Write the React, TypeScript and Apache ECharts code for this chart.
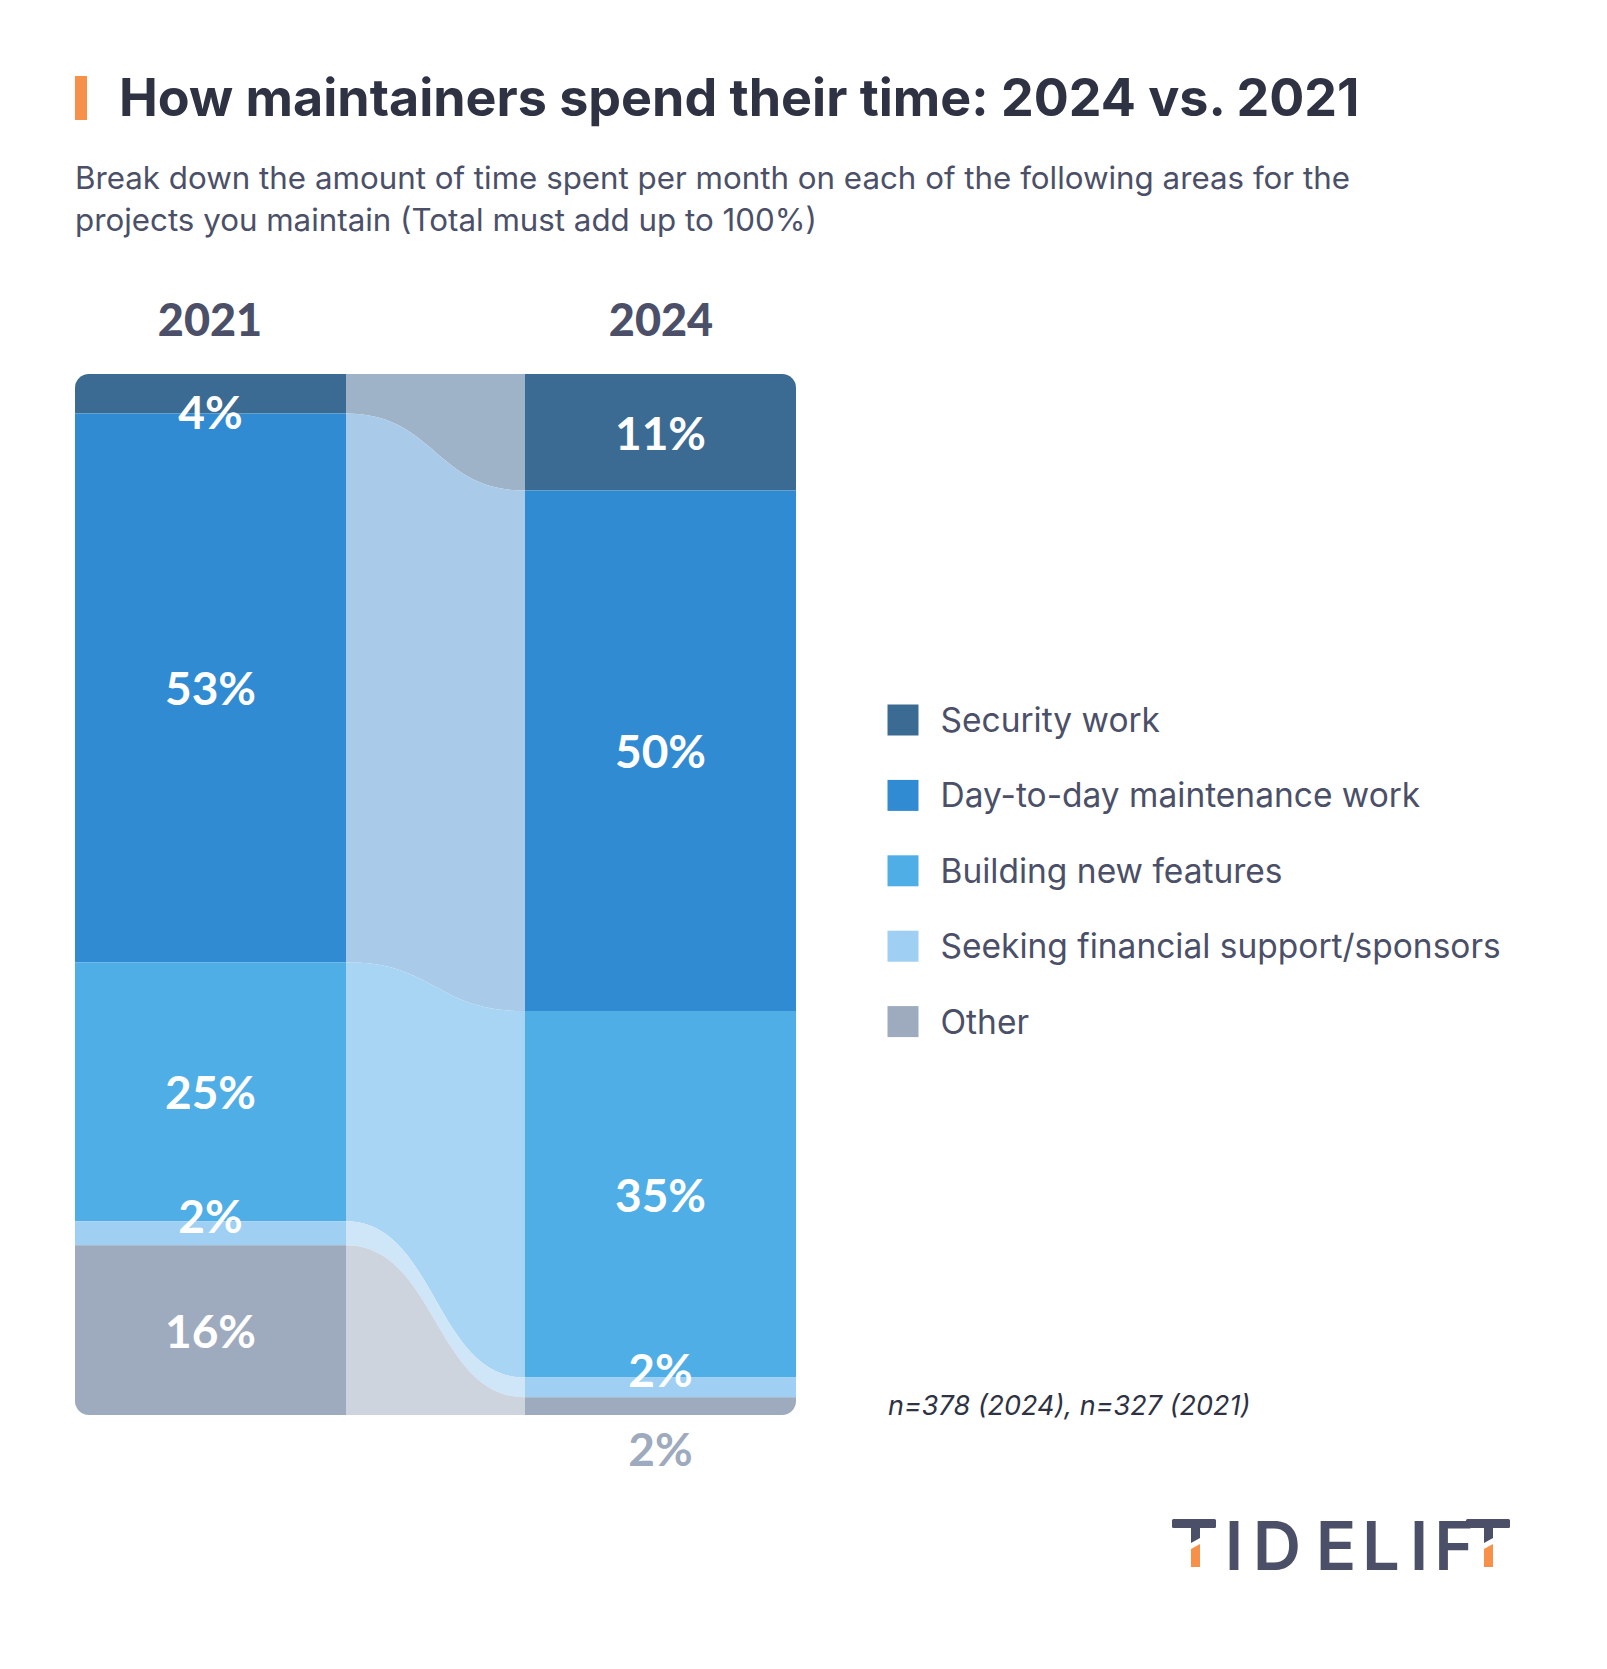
import React, { useEffect, useRef } from "react";
import * as echarts from "echarts";

const categories = [
  "Security work",
  "Day-to-day maintenance work",
  "Building new features",
  "Seeking financial support/sponsors",
  "Other",
];
const years = ["2021", "2024"];
const values2021 = [3.8, 52.7, 24.9, 2.3, 16.3];
const values2024 = [11.2, 50.0, 35.2, 1.9, 1.7];
const barColors = ["#3b6a92", "#318bd2", "#4faee6", "#9fcff2", "#9eaabd"];
const flowColors = ["#9eb3c7", "#a9cbe9", "#a7d5f3", "#cfe5f8", "#cdd4de"];

const TITLE = "How maintainers spend their time: 2024 vs. 2021";
const SUB1 = "Break down the amount of time spent per month on each of the following areas for the";
const SUB2 = "projects you maintain (Total must add up to 100%)";
const NOTE = "n=378 (2024), n=327 (2021)";

const BAR_FRAC = 271 / 721;
const R = 14;
const LABEL_FONT = "Lato, sans-serif";
const TEXT_FONT = "Inter, sans-serif";
const DARK = "#2e3243";
const MID = "#4b5068";

function cumulative(arr: number[]) {
  const starts: number[] = [];
  let acc = 0;
  for (const v of arr) {
    starts.push(acc);
    acc += v;
  }
  return starts;
}

function geom(api: any) {
  const s21 = api.value(0);
  const e21 = api.value(1);
  const s24 = api.value(2);
  const e24 = api.value(3);
  const idx = api.value(4);
  const x0 = api.coord([0, 0])[0];
  const x3 = api.coord([1, 0])[0];
  const W = x3 - x0;
  const x1 = x0 + W * BAR_FRAC;
  const x2 = x3 - W * BAR_FRAC;
  return {
    idx,
    x0,
    x1,
    x2,
    x3,
    xm: (x1 + x2) / 2,
    ya1: api.coord([0, s21])[1],
    yb1: api.coord([0, e21])[1],
    ya2: api.coord([1, s24])[1],
    yb2: api.coord([1, e24])[1],
  };
}

export default function App() {
  const ref = useRef<HTMLDivElement>(null);
  useEffect(() => {
    if (!ref.current) return;
    const chart = echarts.init(ref.current, null, { renderer: "svg" });
    const st21 = cumulative(values2021);
    const st24 = cumulative(values2024);
    const last = categories.length - 1;
    const rows = categories.map((_, i) => [
      st21[i],
      st21[i] + values2021[i],
      st24[i],
      st24[i] + values2024[i],
      i,
    ]);

    const bandSeries = categories.map((name, i) => ({
      type: "custom",
      name,
      z: 2,
      itemStyle: { color: barColors[i] },
      data: [rows[i]],
      renderItem: (params: any, api: any) => {
        const g = geom(api);
        const { idx, x0, x1, x2, x3, xm, ya1, yb1, ya2, yb2 } = g;
        const isFirst = idx === 0;
        const isLast = idx === last;
        const r21 = isFirst ? [R, 0, 0, 0] : isLast ? [0, 0, 0, R] : 0;
        const r24 = isFirst ? [0, R, 0, 0] : isLast ? [0, 0, R, 0] : 0;
        const path =
          `M${x1 - 1},${ya1} L${x1},${ya1} C${xm},${ya1} ${xm},${ya2} ${x2},${ya2} L${x2 + 1},${ya2} ` +
          `L${x2 + 1},${yb2} L${x2},${yb2} C${xm},${yb2} ${xm},${yb1} ${x1},${yb1} L${x1 - 1},${yb1} Z`;
        return {
          type: "group",
          children: [
            { type: "path", shape: { pathData: path }, style: { fill: flowColors[idx] } },
            { type: "rect", shape: { x: x0, y: ya1, width: x1 - x0, height: yb1 - ya1, r: r21 }, style: { fill: barColors[idx] } },
            { type: "rect", shape: { x: x2, y: ya2, width: x3 - x2, height: yb2 - ya2, r: r24 }, style: { fill: barColors[idx] } },
          ],
        };
      },
    }));

    const labelSeries = {
      type: "custom",
      name: "labels",
      z: 10,
      data: rows,
      renderItem: (params: any, api: any) => {
        const g = geom(api);
        const { idx, x0, x1, x2, x3, ya1, yb1, ya2, yb2 } = g;
        const isFirst = idx === 0;
        const isLast = idx === last;
        const bottom = api.coord([1, 100])[1];
        const children: any[] = [];
        const addLabel = (v: number, xc: number, top: number, bot: number) => {
          const h = bot - top;
          let y = (top + bot) / 2;
          let color = "#ffffff";
          if (h < 45) {
            if (isFirst) y += 18;
            else if (isLast && h < 30 && Math.abs(bot - bottom) < 1) {
              y = bot + 33;
              color = "#9eaabd";
            } else y -= 18;
          }
          children.push({
            type: "text",
            style: {
              text: `${Math.round(v)}%`,
              x: xc,
              y,
              align: "center",
              verticalAlign: "middle",
              fill: color,
              font: `bold 46px ${LABEL_FONT}`,
            },
          });
        };
        addLabel(values2021[idx], (x0 + x1) / 2, ya1, yb1);
        addLabel(values2024[idx], (x2 + x3) / 2, ya2, yb2);
        return { type: "group", children };
      },
    };

    const logoLetters = [
      { ch: "I", x: 1234 },
      { ch: "D", x: 1277 },
      { ch: "E", x: 1336 },
      { ch: "L", x: 1381 },
      { ch: "I", x: 1419 },
      { ch: "F", x: 1454 },
    ];
    const tShape = (left: number, stemL: number) => [
      { type: "rect", shape: { x: left, y: 1519, width: 44, height: 9, r: 1.5 }, style: { fill: MID } },
      { type: "polygon", shape: { points: [[stemL, 1527], [stemL + 9, 1527], [stemL + 9, 1538], [stemL, 1543]] }, style: { fill: MID } },
      { type: "polygon", shape: { points: [[stemL, 1549], [stemL + 9, 1544], [stemL + 9, 1567], [stemL, 1567]] }, style: { fill: "#f7914a" } },
    ];

    chart.setOption({
      animation: false,
      grid: { left: 75, top: 374, width: 721, height: 1041 },
      xAxis: { type: "value", min: 0, max: 1, show: false },
      yAxis: { type: "value", min: 0, max: 100, inverse: true, show: false },
      legend: {
        orient: "vertical",
        left: 882.5,
        top: 698,
        icon: "rect",
        itemWidth: 31,
        itemHeight: 31,
        itemGap: 41.4,
        selectedMode: false,
        data: categories,
        textStyle: { fontSize: 33.5, color: MID, fontFamily: TEXT_FONT, lineHeight: 31, padding: [0, 0, 0, 17] },
      },
      graphic: [
        { type: "rect", shape: { x: 75, y: 76, width: 12, height: 44 }, style: { fill: "#f7914a" } },
        { type: "text", style: { text: TITLE, x: 119, y: 97, verticalAlign: "middle", fill: DARK, font: `bold 52px ${TEXT_FONT}` } },
        { type: "text", style: { text: SUB1, x: 75, y: 178, verticalAlign: "middle", fill: MID, font: `31.3px ${TEXT_FONT}` } },
        { type: "text", style: { text: SUB2, x: 75, y: 220, verticalAlign: "middle", fill: MID, font: `31.3px ${TEXT_FONT}` } },
        { type: "text", style: { text: years[0], x: 210, y: 319, align: "center", verticalAlign: "middle", fill: MID, font: `900 45px ${LABEL_FONT}` } },
        { type: "text", style: { text: years[1], x: 661, y: 319, align: "center", verticalAlign: "middle", fill: MID, font: `900 45px ${LABEL_FONT}` } },
        { type: "text", style: { text: NOTE, x: 888, y: 1405, verticalAlign: "middle", fill: DARK, font: `italic 27px ${TEXT_FONT}` } },
        ...tShape(1172, 1191),
        ...tShape(1466, 1484),
        ...logoLetters.map((l) => ({
          type: "text",
          style: { text: l.ch, x: l.x, y: 1545, align: "center", verticalAlign: "middle", fill: MID, font: `600 67px ${TEXT_FONT}` },
        })),
      ],
      series: [...bandSeries, labelSeries],
    });
    return () => chart.dispose();
  }, []);
  return <div ref={ref} style={{ position: "absolute", left: 0, top: 0, width: 1607, height: 1669, background: "#fff" }} />;
}
